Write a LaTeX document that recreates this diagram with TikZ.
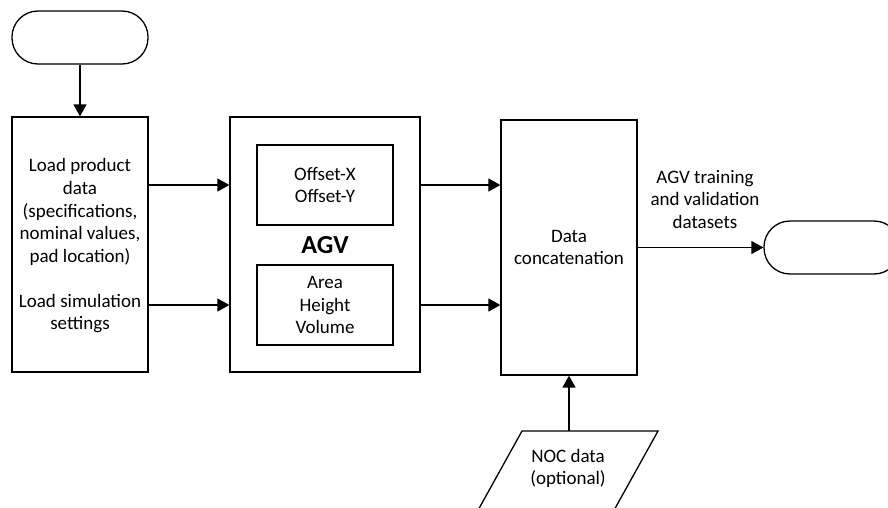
\documentclass[tikz,border=0pt]{standalone}
\usepackage{fontspec}
\setmainfont{Carlito}
\usetikzlibrary{arrows.meta}
\begin{document}
\begin{tikzpicture}[x=1pt,y=-1pt,
  every node/.style={font=\fontsize{19}{22.7}\selectfont, align=center, inner sep=0pt},
  box/.style={draw, line width=1.3pt, rectangle},
  term/.style={draw, line width=1.3pt, rounded corners=26pt, minimum width=136pt, minimum height=53pt},
  arr/.style={line width=1.5pt, -{Triangle[length=12pt,width=13pt]}},
  lbl/.style={draw=none}]
\useasboundingbox (0,0) rectangle (888,508);
\clip (0,0) rectangle (888,508);
% start terminal
\node[term] (start) at (80,37.5) {};
% left box
\node[box, minimum width=136pt, minimum height=255pt] (load) at (80,244.5) {};
\node[lbl] (t1) at (80,212) {Load product\\data\\(specifications,\\nominal values,\\pad location)};
\node[lbl] (t2) at (80,313.5) {Load simulation\\settings};
% AGV box
\node[box, minimum width=190pt, minimum height=255pt] (agv) at (325,244.5) {};
\node[box, minimum width=136pt, minimum height=80pt] (off) at (325,185) {Offset-X\\Offset-Y};
\node[lbl, font=\fontsize{26}{30}\selectfont\bfseries] (agvl) at (325,245) {AGV};
\node[box, minimum width=136pt, minimum height=80pt] (ahv) at (325,305) {Area\\Height\\Volume};
% data concat
\node[box, minimum width=136pt, minimum height=255pt] (data) at (569,247.5) {Data\\concatenation};
% end terminal
\node[term] (end) at (832,247.5) {};
\node[lbl] (dl) at (705,199.5) {AGV training\\and validation\\datasets};
% NOC parallelogram
\coordinate (pTL) at (522,431);
\coordinate (pTR) at (658,431);
\coordinate (pBR) at (597.5,540);
\coordinate (pBL) at (461.5,540);
\draw[line width=1.3pt] (pTL) -- (pTR) -- (pBR) -- (pBL) -- cycle;
\coordinate (noctop) at (569,431);
\node[lbl] (noc) at (568,468.5) {NOC data\\(optional)};
% connectors
\draw[arr] (start.south) -- (load.north);
\draw[arr] (load.east |- 0,185) coordinate (a1) -- (agv.west |- a1);
\draw[arr] (load.east |- 0,305) coordinate (a2) -- (agv.west |- a2);
\draw[arr] (agv.east |- 0,185) coordinate (b1) -- (data.west |- b1);
\draw[arr] (agv.east |- 0,305) coordinate (b2) -- (data.west |- b2);
\draw[arr] (data.east) -- (end.west);
\draw[arr] (noctop) -- (data.south);
\end{tikzpicture}
\end{document}
